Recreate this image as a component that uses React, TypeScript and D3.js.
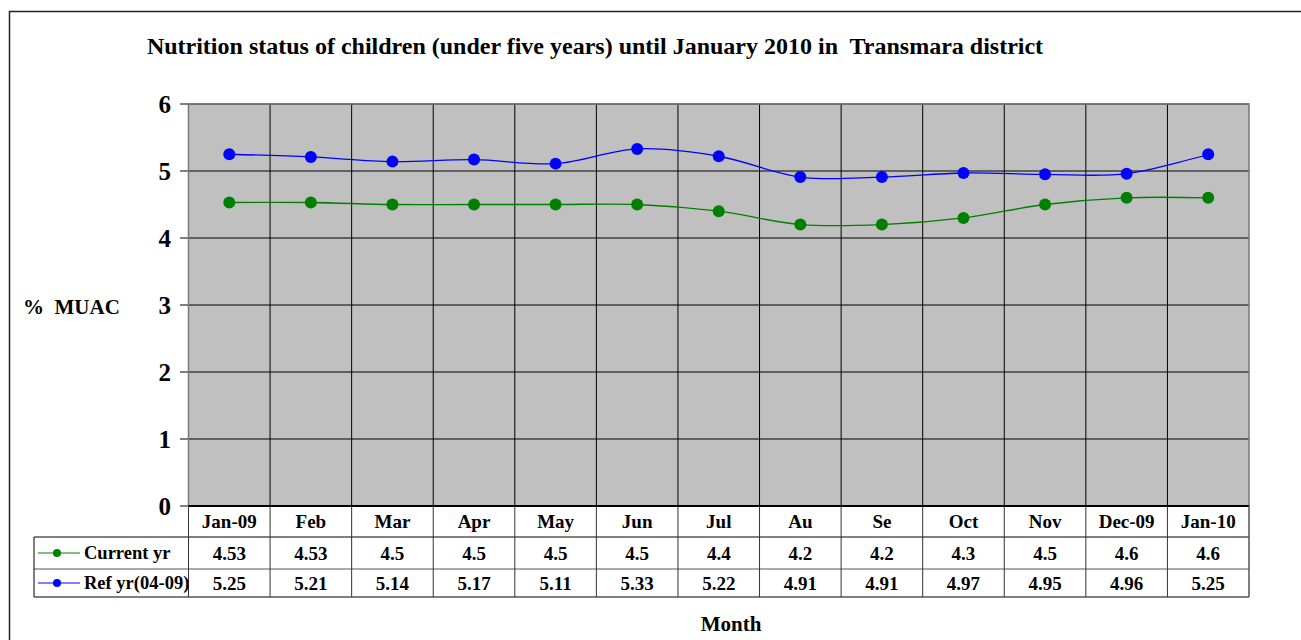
import React from 'react';
import * as d3 from 'd3';

const months = ['Jan-09', 'Feb', 'Mar', 'Apr', 'May', 'Jun', 'Jul', 'Au', 'Se', 'Oct', 'Nov', 'Dec-09', 'Jan-10'];
const currentYr = [4.53, 4.53, 4.5, 4.5, 4.5, 4.5, 4.4, 4.2, 4.2, 4.3, 4.5, 4.6, 4.6];
const refYr = [5.25, 5.21, 5.14, 5.17, 5.11, 5.33, 5.22, 4.91, 4.91, 4.97, 4.95, 4.96, 5.25];
const yTicks = [0, 1, 2, 3, 4, 5, 6];

const series = [
  { name: 'Current yr', values: currentYr, color: '#008000' },
  { name: 'Ref yr(04-09)', values: refYr, color: '#0000FF' },
];

const W = 1301;
const H = 640;
const plot = { left: 188.5, right: 1249, top: 104, bottom: 506 };
const rowH = [31, 32, 28]; // category row, then one row per series
const legendLeft = 34;
const font = '"Liberation Serif", "Times New Roman", serif';

export default function App() {
  const x = d3.scaleBand<string>().domain(months).range([plot.left, plot.right]);
  const y = d3.scaleLinear().domain([0, 6]).range([plot.bottom, plot.top]);
  const line = d3.line<number>()
    .x((_, i) => (x(months[i]) as number) + x.bandwidth() / 2)
    .y(d => y(d))
    .curve(d3.curveCardinal.tension(0));

  const rowTops = [plot.bottom, plot.bottom + rowH[0], plot.bottom + rowH[0] + rowH[1]];
  const tableBottom = rowTops[2] + rowH[2];

  return (
    <svg width={W} height={H} style={{ position: 'absolute', left: 0, top: 0, background: '#fff' }} fontFamily={font}>
      <rect x={9.5} y={11.5} width={1300} height={700} fill="none" stroke="#222" strokeWidth={1.5} />

      <text x={595} y={54} textAnchor="middle" fontSize={24} fontWeight="bold" style={{ whiteSpace: 'pre' }}>
        {'Nutrition status of children (under five years) until January 2010 in  Transmara district'}
      </text>

      {/* plot area */}
      <rect x={plot.left} y={plot.top} width={plot.right - plot.left} height={plot.bottom - plot.top} fill="#C0C0C0" />
      {yTicks.map(t => (
        <g key={t}>
          <line x1={plot.left} x2={plot.right} y1={y(t)} y2={y(t)} stroke="#000" strokeWidth={1} />
          <line x1={180} x2={plot.left} y1={y(t)} y2={y(t)} stroke="#000" strokeWidth={1} />
          <text x={171} y={y(t)} dy="0.35em" textAnchor="end" fontSize={25} fontWeight="bold">{t}</text>
        </g>
      ))}
      {months.map((m, i) => (
        <line key={m} x1={x(m) as number} x2={x(m) as number} y1={plot.top} y2={i === 0 ? tableBottom : plot.bottom} stroke="#000" strokeWidth={1} />
      ))}
      <rect x={plot.left} y={plot.top} width={plot.right - plot.left} height={plot.bottom - plot.top} fill="none" stroke="#777" strokeWidth={1.5} />

      {series.map(s => (
        <g key={s.name}>
          <path d={line(s.values) || ''} fill="none" stroke={s.color} strokeWidth={1.3} />
          {s.values.map((v, i) => (
            <circle key={i} cx={(x(months[i]) as number) + x.bandwidth() / 2} cy={y(v)} r={6} fill={s.color} />
          ))}
        </g>
      ))}

      {/* data table */}
      <g stroke="#000" strokeWidth={1}>
        <line x1={plot.left} x2={plot.right} y1={plot.bottom} y2={plot.bottom} strokeWidth={2} />
        <line x1={legendLeft} x2={plot.right} y1={rowTops[1]} y2={rowTops[1]} />
        <line x1={legendLeft} x2={plot.right} y1={rowTops[2]} y2={rowTops[2]} stroke="#555" />
        <line x1={legendLeft} x2={plot.right} y1={tableBottom} y2={tableBottom} stroke="#555" strokeWidth={1.5} />
        <line x1={legendLeft} x2={legendLeft} y1={rowTops[1]} y2={tableBottom} />
        {months.map(m => (
          <line key={m} x1={x(m) as number} x2={x(m) as number} y1={plot.bottom} y2={tableBottom} stroke="#333" />
        ))}
        <line x1={plot.right} x2={plot.right} y1={plot.bottom} y2={tableBottom} stroke="#555" strokeWidth={1.5} />
      </g>
      {months.map(m => (
        <text key={m} x={(x(m) as number) + x.bandwidth() / 2} y={rowTops[0] + rowH[0] / 2} dy="0.35em" textAnchor="middle" fontSize={19} fontWeight="bold">{m}</text>
      ))}
      {series.map((s, si) => {
        const cy = rowTops[si + 1] + rowH[si + 1] / 2;
        return (
          <g key={s.name}>
            <line x1={38} x2={80} y1={cy} y2={cy} stroke={s.color} strokeWidth={1} />
            <circle cx={57} cy={cy} r={4} fill={s.color} />
            <text x={84} y={cy} dy="0.35em" fontSize={18.5} fontWeight="bold">{s.name}</text>
            {s.values.map((v, i) => (
              <text key={i} x={(x(months[i]) as number) + x.bandwidth() / 2} y={cy} dy="0.35em" textAnchor="middle" fontSize={19} fontWeight="bold">{v}</text>
            ))}
          </g>
        );
      })}

      <text x={23} y={314} fontSize={21} fontWeight="bold" style={{ whiteSpace: 'pre' }}>{'%  MUAC'}</text>
      <text x={731} y={631} textAnchor="middle" fontSize={21} fontWeight="bold">Month</text>
    </svg>
  );
}
